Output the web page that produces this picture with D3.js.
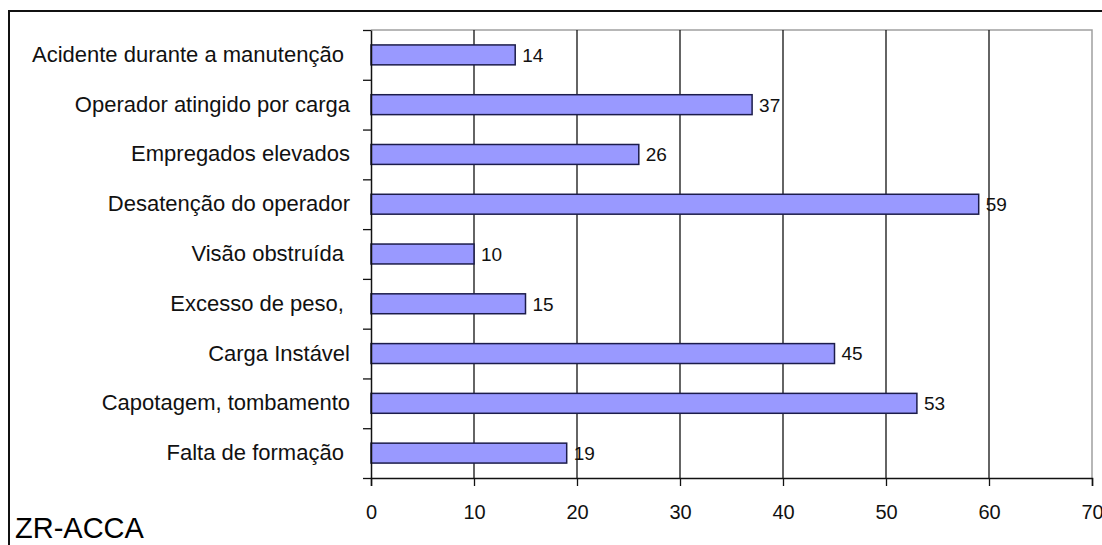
<!DOCTYPE html>
<html>
<head>
<meta charset="utf-8">
<script src="https://cdn.jsdelivr.net/npm/d3@7"></script>
<style>
  body { margin: 0; background: #fff; }
  svg { display: block; font-family: Arial, "Liberation Sans", sans-serif; }
</style>
</head>
<body>
<svg id="chart" width="1102" height="545"></svg>
<script>
// categorias (de cima para baixo), algumas com espaço no fim como no original
const categories = [
    "Acidente durante a manutenção ",
    "Operador atingido por carga",
    "Empregados elevados",
    "Desatenção do operador",
    "Visão obstruída ",
    "Excesso de peso, ",
    "Carga Instável",
    "Capotagem, tombamento",
    "Falta de formação "
];
const values = [14, 37, 26, 59, 10, 15, 45, 53, 19];
const xTicks = [0, 10, 20, 30, 40, 50, 60, 70];
const chartTitle = "ZR-ACCA";

function drawChart() {
    const margin = { top: 30, right: 10, bottom: 67, left: 371 };
    const width = 1102 - margin.left - margin.right;
    const height = 545 - margin.top - margin.bottom;

    const svg = d3.select("#chart");

    //moldura externa
    svg.append("path")
        .attr("d", "M9,545 V11 H1102")
        .attr("fill", "none")
        .attr("stroke", "#111")
        .attr("stroke-width", 2);

    const chart = svg.append("g")
        .attr("transform", `translate(${margin.left},${margin.top})`);

    const xScale = d3.scaleLinear()
        .domain([0, 70])
        .range([0, width]);

    const yScale = d3.scaleBand()
        .domain(categories)
        .range([0, height])
        .paddingInner(0.6)
        .paddingOuter(0.3);

    // escala para os traços entre categorias
    const yEdges = d3.scaleLinear()
        .domain([0, categories.length])
        .range([0, height]);

    //borda da área do gráfico (cinza)
    chart.append("path")
        .attr("d", `M0,0 H${width} V${height}`)
        .attr("fill", "none")
        .attr("stroke", "#a0a0a0")
        .attr("stroke-width", 1.5);

    //linhas de grade
    chart.selectAll(".grid")
        .data(xTicks.filter(t => t > 0 && t < 70))
        .enter()
        .append("line")
        .attr("class", "grid")
        .attr("x1", d => xScale(d))
        .attr("x2", d => xScale(d))
        .attr("y1", 0)
        .attr("y2", height)
        .attr("stroke", "#111")
        .attr("stroke-width", 1.3);

    //barras
    chart.selectAll(".bar")
        .data(values)
        .enter()
        .append("rect")
        .attr("class", "bar")
        .attr("x", xScale(0))
        .attr("y", (d, i) => yScale(categories[i]))
        .attr("width", d => xScale(d) - xScale(0))
        .attr("height", yScale.bandwidth())
        .attr("fill", "#9999ff")
        .attr("stroke", "#1c1c4a")
        .attr("stroke-width", 1.5);

    //ax oy - traços
    chart.append("g")
        .call(d3.axisLeft(yEdges).ticks(categories.length).tickSize(8).tickFormat(""))
        .call(g => g.select(".domain").remove())
        .selectAll("line")
        .attr("stroke", "#111")
        .attr("stroke-width", 1.3);

    //ax oy - rótulos
    chart.append("g")
        .call(d3.axisLeft(yScale).tickSize(0).tickPadding(21))
        .call(g => g.select(".domain").attr("stroke", "#111").attr("stroke-width", 1.5))
        .selectAll("text")
        .style("font-family", "Arial, 'Liberation Sans', sans-serif")
        .style("font-size", "22px")
        .style("white-space", "pre")
        .attr("dy", "0.32em")
        .style("fill", "#111");

    //ax ox
    chart.append("g")
        .attr("transform", `translate(0,${height})`)
        .call(d3.axisBottom(xScale).tickValues(xTicks).tickSize(8).tickPadding(19))
        .call(g => g.select(".domain").attr("stroke", "#111").attr("stroke-width", 1.5))
        .call(g => g.selectAll("line").attr("stroke", "#111").attr("stroke-width", 1.3))
        .selectAll("text")
        .style("font-family", "Arial, 'Liberation Sans', sans-serif")
        .style("font-size", "20px")
        .style("fill", "#111");

    //rótulos de valor
    chart.selectAll(".value-label")
        .data(values)
        .enter()
        .append("text")
        .attr("class", "value-label")
        .attr("x", d => xScale(d) + 7)
        .attr("y", (d, i) => yScale(categories[i]) + yScale.bandwidth() / 2)
        .attr("dy", "0.36em")
        .text(d => d)
        .style("font-size", "19px")
        .style("fill", "#111");

    //título
    svg.append("text")
        .attr("x", 15)
        .attr("y", 538)
        .text(chartTitle)
        .style("font-size", "29px")
        .style("fill", "#000");
}

drawChart();
</script>
</body>
</html>
